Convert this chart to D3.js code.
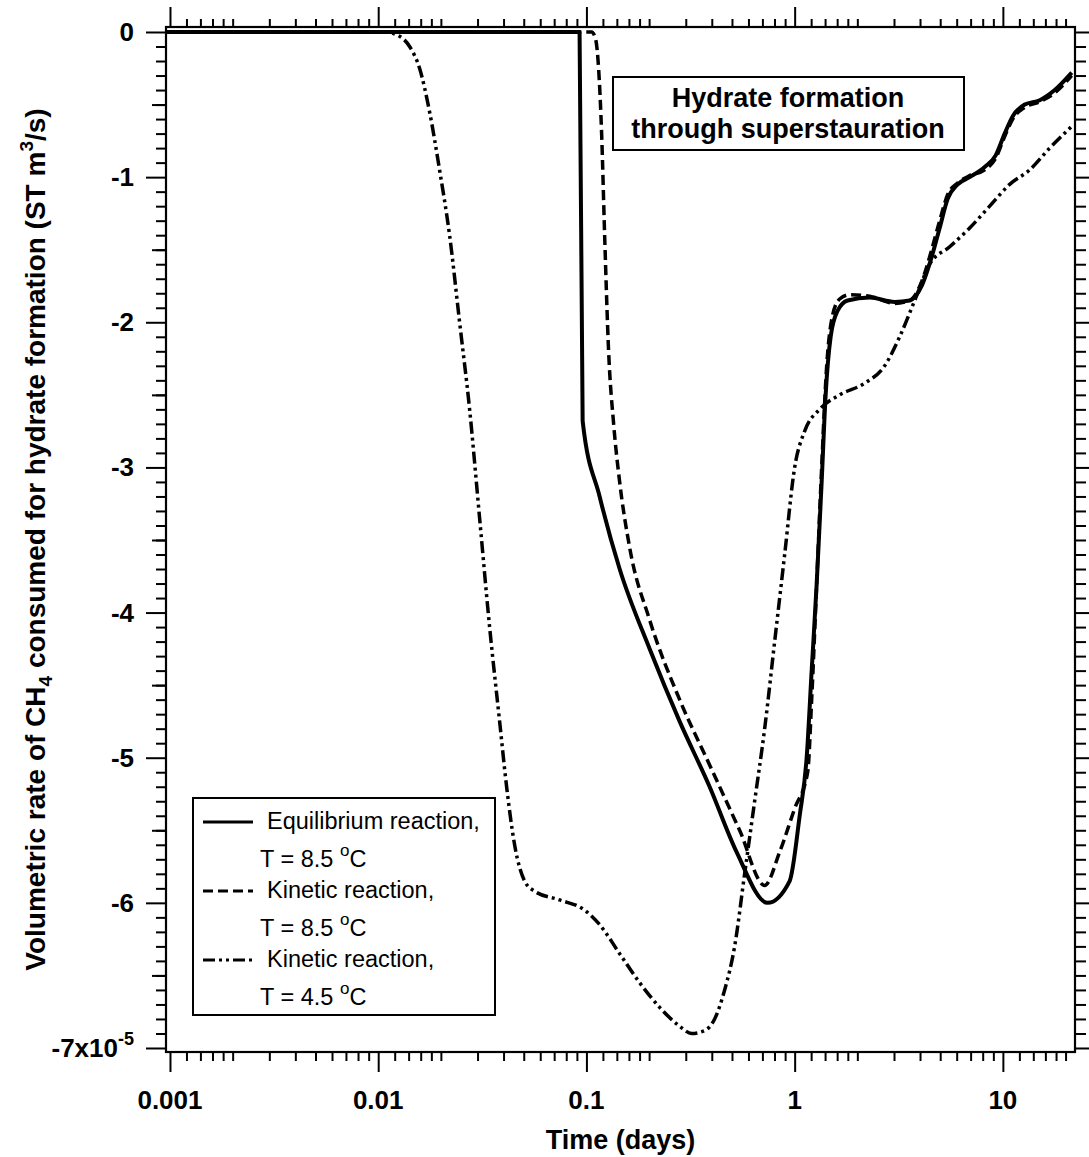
<!DOCTYPE html>
<html><head><meta charset="utf-8">
<script src="https://cdn.jsdelivr.net/npm/d3@7"></script>
<style>
html,body{margin:0;padding:0;background:#fff;}
svg text{font-family:"Liberation Sans",Arial,sans-serif;fill:#000;}
</style></head>
<body>
<svg id="chart" width="1089" height="1157"></svg>
<script>
// ---- data (rate in units of 1e-5 ST m3/s, time in days) ----
const eqTime  = [0.00096,0.0927,0.0959,0.1157,0.1444,0.2011,0.2803,0.3905,0.5264,0.7417,0.9462,1.057,1.142,1.207,1.276,1.348,1.409,1.489,1.609,1.797,2.293,3.022,3.568,4.074,4.550,4.971,5.431,6.066,6.928,8.178,9.235,10.20,11.15,12.73,15.03,17.74,21.41];
const eqRate  = [0,0,-2.68,-3.2,-3.7,-4.25,-4.75,-5.2,-5.65,-6.0,-5.85,-5.4,-5.0,-4.4,-3.8,-3.1,-2.5,-2.1,-1.92,-1.85,-1.83,-1.86,-1.85,-1.75,-1.55,-1.35,-1.15,-1.05,-1.0,-0.93,-0.85,-0.7,-0.58,-0.5,-0.47,-0.4,-0.28];

const kin85Time = [0.00096,0.1059,0.1107,0.1144,0.1183,0.1223,0.1278,0.1351,0.1444,0.1612,0.2011,0.2803,0.3905,0.5441,0.7177,0.8472,1.0,1.155,1.207,1.276,1.348,1.425,1.522,1.645,1.837,2.293,3.022,3.568,4.074,4.550,4.971,5.431,6.066,6.928,8.178,9.235,10.20,11.15,12.73,15.03,17.74,21.41];
const kin85Rate = [0,0,-0.05,-0.25,-0.7,-1.4,-2.2,-2.7,-3.1,-3.55,-4.05,-4.6,-5.05,-5.5,-5.88,-5.65,-5.35,-5.1,-4.6,-3.8,-3.0,-2.3,-1.95,-1.84,-1.81,-1.82,-1.87,-1.85,-1.72,-1.5,-1.3,-1.12,-1.04,-0.99,-0.95,-0.87,-0.72,-0.6,-0.52,-0.48,-0.42,-0.3];

const kin45Time = [0.00096,0.01073,0.01267,0.01415,0.0158,0.01765,0.01971,0.02202,0.0246,0.02748,0.03069,0.03428,0.03829,0.04137,0.04519,0.05048,0.05638,0.07435,0.09804,0.1157,0.1444,0.1801,0.2247,0.2803,0.32,0.3696,0.4128,0.4611,0.515,0.5752,0.6424,0.7177,0.8016,0.8954,1.0,1.117,1.318,1.645,2.169,2.706,3.194,3.771,4.45,5.553,6.928,8.643,10.78,13.45,16.78,21.41];
const kin45Rate = [0,0,-0.03,-0.1,-0.25,-0.55,-0.95,-1.4,-2.0,-2.6,-3.35,-4.1,-4.75,-5.2,-5.6,-5.85,-5.92,-5.98,-6.05,-6.15,-6.35,-6.55,-6.72,-6.85,-6.9,-6.88,-6.8,-6.6,-6.3,-5.8,-5.3,-4.8,-4.2,-3.6,-3.0,-2.75,-2.6,-2.5,-2.42,-2.3,-2.1,-1.85,-1.6,-1.48,-1.35,-1.2,-1.05,-0.95,-0.8,-0.65];

const xTickValues = [0.001,0.01,0.1,1,10];
const xTickLabels = ["0.001","0.01","0.1","1","10"];
const yTickValues = [0,-1,-2,-3,-4,-5,-6,-7];
const yTickLabels = ["0","-1","-2","-3","-4","-5","-6","-7x10"];
const legendNames = ["Equilibrium reaction,","Kinetic reaction,","Kinetic reaction,"];
const legendTemps = ["T = 8.5 ","T = 8.5 ","T = 4.5 "];

// ---- layout ----
const svg = d3.select("#chart");
const L = 166, R = 1075, T = 27, B = 1052;
const x = d3.scaleLog().domain([0.000957, 22.2]).range([L, R]);
const y = d3.scaleLinear().domain([-7.0276, 0.0344]).range([B, T]);

const series = [
  {t: eqTime, v: eqRate, w: 4, dash: null},
  {t: kin85Time, v: kin85Rate, w: 3.5, dash: "10,5"},
  {t: kin45Time, v: kin45Rate, w: 3.5, dash: "12,4,3,4,3,4"}
];

// minor ticks
const minorX = [];
for (let e = -3; e <= 1; e++) {
  [1.2,1.4,1.6,1.8,2,3,4,5,6,7,8,9].forEach(m => {
    const v = m * Math.pow(10, e);
    if (v < 22.2) minorX.push(v);
  });
}
const minorY = d3.range(0, 71).map(i => -i / 10).filter(v => Math.abs(v - Math.round(v)) > 1e-6);

const g = svg.append("g");
const styleAxis = s => { s.select(".domain").remove(); s.selectAll("line").attr("stroke","#000").attr("stroke-width",2); };
[[d3.axisBottom(x).tickValues(xTickValues).tickSize(20), B],
 [d3.axisBottom(x).tickValues(minorX).tickSize(9), B],
 [d3.axisTop(x).tickValues(xTickValues).tickSize(20), T],
 [d3.axisTop(x).tickValues(minorX).tickSize(8), T]].forEach(([ax, pos]) => {
  g.append("g").attr("transform", `translate(0,${pos})`).call(ax.tickFormat("")).call(styleAxis);
});
[[d3.axisLeft(y).tickValues(yTickValues).tickSize(20), L],
 [d3.axisLeft(y).tickValues(minorY).tickSize(10), L],
 [d3.axisLeft(y).tickValues(d3.range(0,7).map(i => -i - 0.5)).tickSize(14), L],
 [d3.axisRight(y).tickValues(yTickValues).tickSize(14), R],
 [d3.axisRight(y).tickValues(minorY).tickSize(11), R]].forEach(([ax, pos]) => {
  g.append("g").attr("transform", `translate(${pos},0)`).call(ax.tickFormat("")).call(styleAxis);
});

// frame
svg.append("rect").attr("x", L).attr("y", T).attr("width", R - L).attr("height", B - T)
  .attr("fill","none").attr("stroke","#000").attr("stroke-width",2.2);

// tick labels
svg.append("g").selectAll("text").data(xTickValues).join("text")
  .attr("x", d => x(d)).attr("y", 1109).attr("text-anchor","middle")
  .attr("font-size", 26).attr("font-weight","bold")
  .text((d,i) => xTickLabels[i]);
const ytl = svg.append("g").selectAll("text").data(yTickValues).join("text")
  .attr("x", 134).attr("y", d => y(d) + 9).attr("text-anchor","end")
  .attr("font-size", 26).attr("font-weight","bold");
ytl.append("tspan").text((d,i) => yTickLabels[i]);
ytl.filter(d => d === -7).append("tspan").attr("dy", -12).attr("font-size", 18).text("-5");

// axis titles
svg.append("text").attr("x", (L + R) / 2).attr("y", 1149).attr("text-anchor","middle")
  .attr("font-size", 27).attr("font-weight","bold").text("Time (days)");
const yt = svg.append("text").attr("transform", `translate(45,${(T + B) / 2}) rotate(-90)`)
  .attr("text-anchor","middle").attr("font-size", 28).attr("font-weight","bold");
yt.append("tspan").text("Volumetric rate of CH");
yt.append("tspan").attr("dy", 7).attr("font-size", 19).text("4");
yt.append("tspan").attr("dy", -7).text(" consumed for hydrate formation (ST m");
yt.append("tspan").attr("dy", -12).attr("font-size", 19).text("3");
yt.append("tspan").attr("dy", 12).text("/s)");

// lines
svg.append("clipPath").attr("id","pc").append("rect")
  .attr("x", L).attr("y", T).attr("width", R - L).attr("height", B - T);
const line = d3.line().x(d => x(d[0])).y(d => y(d[1])).curve(d3.curveMonotoneX);
series.forEach(s => {
  svg.append("path").attr("clip-path","url(#pc)")
    .datum(s.t.map((t,i) => [t, s.v[i]]))
    .attr("d", line).attr("fill","none").attr("stroke","#000")
    .attr("stroke-width", s.w).attr("stroke-dasharray", s.dash)
    .attr("stroke-linejoin","round");
});

// annotation box
svg.append("rect").attr("x", 613).attr("y", 77).attr("width", 351).attr("height", 73)
  .attr("fill","#fff").attr("stroke","#000").attr("stroke-width",2);
svg.append("text").attr("x", 788).attr("y", 107).attr("text-anchor","middle")
  .attr("font-size", 27).attr("font-weight","bold").text("Hydrate formation");
svg.append("text").attr("x", 788).attr("y", 138).attr("text-anchor","middle")
  .attr("font-size", 27).attr("font-weight","bold").text("through superstauration");

// legend
const lg = svg.append("g");
lg.append("rect").attr("x", 193).attr("y", 798).attr("width", 302).attr("height", 217)
  .attr("fill","#fff").attr("stroke","#000").attr("stroke-width",2);
const rowY = [0, 69, 138];
series.forEach((s, i) => {
  const yy = 822 + rowY[i];
  lg.append("line").attr("x1", 203).attr("x2", 253).attr("y1", yy).attr("y2", yy)
    .attr("stroke","#000").attr("stroke-width", 3.2).attr("stroke-dasharray", s.dash);
  lg.append("text").attr("x", 267).attr("y", yy + 7).attr("font-size", 23.5).text(legendNames[i]);
  const tt = lg.append("text").attr("x", 260).attr("y", yy + 45).attr("font-size", 23.5);
  tt.append("tspan").text(legendTemps[i]);
  tt.append("tspan").attr("dy", -11).attr("font-size", 17).text("o");
  tt.append("tspan").attr("dy", 11).text("C");
});
</script>
</body></html>
